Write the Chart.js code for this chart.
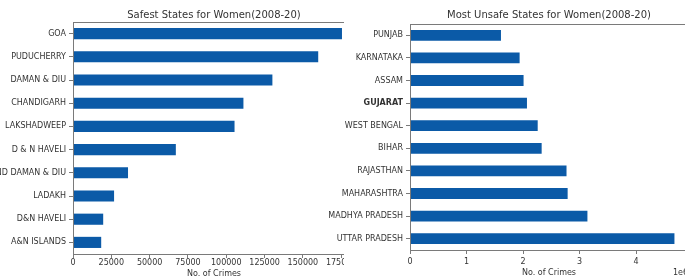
<!DOCTYPE html>
<html>
<head>
<meta charset="utf-8">
<script src="https://cdn.jsdelivr.net/npm/chart.js@4/dist/chart.umd.min.js"></script>
<style>
  html, body { margin: 0; padding: 0; background: #fff; }
  #wrap { position: relative; width: 685px; height: 279px; overflow: hidden; }
  /* left chart is cut off at the right, like the screenshot */
  #safeBox { position: absolute; left: 0; top: 0; width: 344px; height: 279px; overflow: hidden; }
  #safeChart { position: absolute; left: 0; top: 0; }
  #unsafeChart { position: absolute; left: 300px; top: 0; }
</style>
</head>
<body>
<div id="wrap">
  <div id="safeBox"><canvas id="safeChart" width="355" height="279"></canvas></div>
  <canvas id="unsafeChart" width="388" height="279"></canvas>
</div>
<script>
////////////
//Data
///////////
const safeStates = ["GOA", "PUDUCHERRY", "DAMAN & DIU", "CHANDIGARH", "LAKSHADWEEP", "D & N HAVELI",
  "D&N HAVELI AND DAMAN & DIU", "LADAKH", "D&N HAVELI", "A&N ISLANDS"];
const safeCrimes = [175500, 160000, 130100, 111200, 105400, 67100, 35900, 26800, 19700, 18400];
const safeTicks = [0, 25000, 50000, 75000, 100000, 125000, 150000, 175000];

const unsafeStates = ["PUNJAB", "KARNATAKA", "ASSAM", "GUJARAT", "WEST BENGAL", "BIHAR", "RAJASTHAN",
  "MAHARASHTRA", "MADHYA PRADESH", "UTTAR PRADESH"];
const unsafeCrimes = [1610000, 1940000, 2010000, 2070000, 2260000, 2330000, 2770000, 2790000, 3140000, 4680000];
const unsafeTicks = [0, 1000000, 2000000, 3000000, 4000000];

const barColor = "#0b5aa7";
const axisColor = "#7a7a7a";
const textColor = "#333";
const family = "'DejaVu Sans', sans-serif";

//draws the top/right spines like matplotlib
const frame = {
  id: "frame",
  afterDatasetsDraw(chart) {
    const { ctx, chartArea: a } = chart;
    ctx.save();
    ctx.strokeStyle = axisColor;
    ctx.lineWidth = 1;
    ctx.strokeRect(Math.round(a.left) + 0.5, Math.round(a.top) + 0.5,
      Math.round(a.right - a.left), Math.round(a.bottom - a.top));
    ctx.restore();
  },
};

//the "1e6" offset label under the right end of the x axis
const offsetText = {
  id: "offsetText",
  afterDraw(chart) {
    const { ctx, chartArea: a } = chart;
    ctx.save();
    ctx.fillStyle = textColor;
    ctx.font = "8px " + family;
    ctx.textAlign = "right";
    ctx.textBaseline = "middle";
    ctx.fillText("1e6", a.right, 273);
    ctx.restore();
  },
};

function makeConfig(labels, values, ticks, opts) {
  return {
    type: "bar",
    data: {
      labels: labels,
      datasets: [
        {
          data: values,
          backgroundColor: barColor,
          borderWidth: 0,
          categoryPercentage: 1,
          barPercentage: 0.48,
        },
      ],
    },
    options: {
      indexAxis: "y",
      responsive: false,
      animation: false,
      devicePixelRatio: 1,
      layout: { padding: 0 },
      plugins: {
        legend: { display: false },
        tooltip: { enabled: false },
        title: {
          display: true,
          text: opts.title,
          fullSize: false,
          color: textColor,
          font: { family: family, size: 10, weight: "normal" },
          padding: { top: 9, bottom: opts.titleGap },
        },
      },
      scales: {
        x: {
          min: 0,
          max: opts.max,
          afterBuildTicks(scale) {
            scale.ticks = ticks.map((v) => ({ value: v }));
          },
          afterFit(scale) {
            scale.height = opts.xHeight;
            scale.paddingLeft = 0;
            scale.paddingRight = 0;
          },
          grid: { drawOnChartArea: false, color: axisColor, tickLength: 4 },
          border: { color: axisColor },
          ticks: {
            color: textColor,
            padding: opts.tickPad,
            maxRotation: 0,
            autoSkip: false,
            font: { family: family, size: 8 },
            callback: opts.tickFormat,
          },
          title: {
            display: true,
            text: "No. of Crimes",
            color: textColor,
            font: { family: family, size: 8 },
            padding: { top: 0, bottom: opts.titlePad },
          },
        },
        y: {
          afterFit(scale) {
            scale.width = opts.yWidth;
          },
          grid: { drawOnChartArea: false, offset: false, color: axisColor, tickLength: 4 },
          border: { color: axisColor },
          ticks: {
            color: textColor,
            padding: 3,
            autoSkip: false,
            font: opts.yFont,
          },
        },
      },
    },
    plugins: opts.plugins,
  };
}

//Safest states
const safeChart = new Chart(
  document.getElementById("safeChart"),
  makeConfig(safeStates, safeCrimes, safeTicks, {
    title: "Safest States for Women(2008-20)",
    titleGap: 1,
    max: 184000,
    xHeight: 25,
    tickPad: 0,
    titlePad: 0,
    yWidth: 73,
    yFont: { family: family, size: 8 },
    tickFormat: (v) => String(v),
    plugins: [frame],
  })
);

//Most unsafe states
const unsafeChart = new Chart(
  document.getElementById("unsafeChart"),
  makeConfig(unsafeStates, unsafeCrimes, unsafeTicks, {
    title: "Most Unsafe States for Women(2008-20)",
    titleGap: 3,
    max: 4920000,
    xHeight: 29,
    tickPad: 3,
    titlePad: 1,
    yWidth: 110,
    yFont: (ctx) => ({
      family: family,
      size: 8,
      weight: unsafeStates[ctx.index] === "GUJARAT" ? "bold" : "normal",
    }),
    tickFormat: (v) => String(v / 1000000),
    plugins: [frame, offsetText],
  })
);
console.log(safeChart, unsafeChart);
</script>
</body>
</html>
